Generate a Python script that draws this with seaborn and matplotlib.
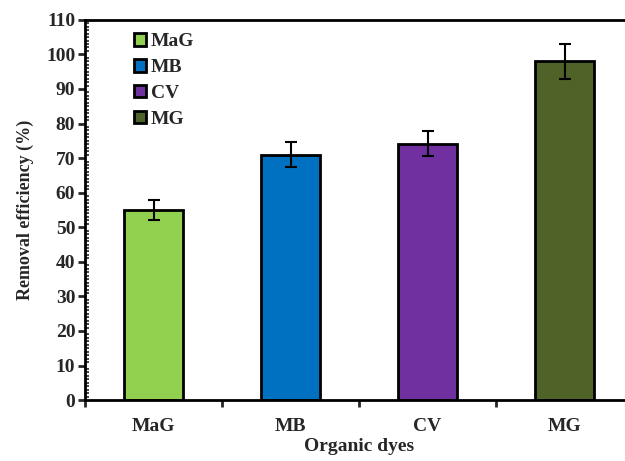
import matplotlib
matplotlib.use("Agg")
import matplotlib.pyplot as plt
import seaborn as sns
import pandas as pd
from matplotlib.ticker import MultipleLocator, FixedLocator

dyes = ["MaG", "MB", "CV", "MG"]
removal = [55.0, 71.0, 74.2, 98.0]
errors = [3.0, 3.6, 3.6, 5.0]
colors = ["#92D050", "#0070C0", "#7030A0", "#4F6228"]

sns.set_style("white")
plt.rcParams["font.family"] = ["Liberation Serif", "DejaVu Serif"]
plt.rcParams["font.weight"] = "bold"

df = pd.DataFrame({"dye": dyes, "removal": removal})

fig = plt.figure(figsize=(6.25, 4.61), dpi=100)
ax = fig.add_axes([0.136, 0.132, 0.877, 0.825])

sns.barplot(data=df, x="dye", y="removal", hue="dye", palette=colors,
            order=dyes, hue_order=dyes, errorbar=None, width=0.43,
            saturation=1, edgecolor="black", linewidth=2, legend=True,
            ax=ax, dodge=False)

ax.errorbar(x=range(len(dyes)), y=removal, yerr=errors, fmt="none",
            ecolor="black", elinewidth=1.5, capsize=4, capthick=1.5, zorder=5)

ax.set_ylim(0, 110)
ax.set_xlim(-0.5, 3.5)
ax.yaxis.set_major_locator(MultipleLocator(10))
ax.yaxis.set_minor_locator(MultipleLocator(1))
ax.tick_params(axis="y", which="major", direction="out", length=5, width=2,
               labelsize=14, pad=2, left=True)
ax.tick_params(axis="y", which="minor", direction="in", length=3, width=1.2, left=True)
ax.xaxis.set_minor_locator(FixedLocator([-0.5, 0.5, 1.5, 2.5, 3.5]))
ax.tick_params(axis="x", which="major", direction="in", length=3, width=2,
               labelsize=14, pad=13, bottom=True)
ax.tick_params(axis="x", which="minor", direction="out", length=5, width=2, bottom=True)
for lab in ax.get_xticklabels() + ax.get_yticklabels():
    lab.set_fontweight("bold")

for s in ax.spines.values():
    s.set_linewidth(2)
    s.set_color("black")

ax.set_xlabel("Organic dyes", fontsize=14, fontweight="bold", labelpad=2)
ax.set_ylabel("Removal efficiency (%)", fontsize=13, fontweight="bold", labelpad=9)

handles, labels = ax.get_legend_handles_labels()
for h in handles:
    h.set_edgecolor("black")
    h.set_linewidth(2)
leg = ax.legend(handles, labels, loc="upper left", bbox_to_anchor=(0.065, 1.0),
                frameon=False, fontsize=14, handlelength=0.6, handleheight=0.6,
                handletextpad=0.25, labelspacing=0.45, borderaxespad=0.3)
for t in leg.get_texts():
    t.set_fontweight("bold")

fig.savefig("out.png", dpi=100)
